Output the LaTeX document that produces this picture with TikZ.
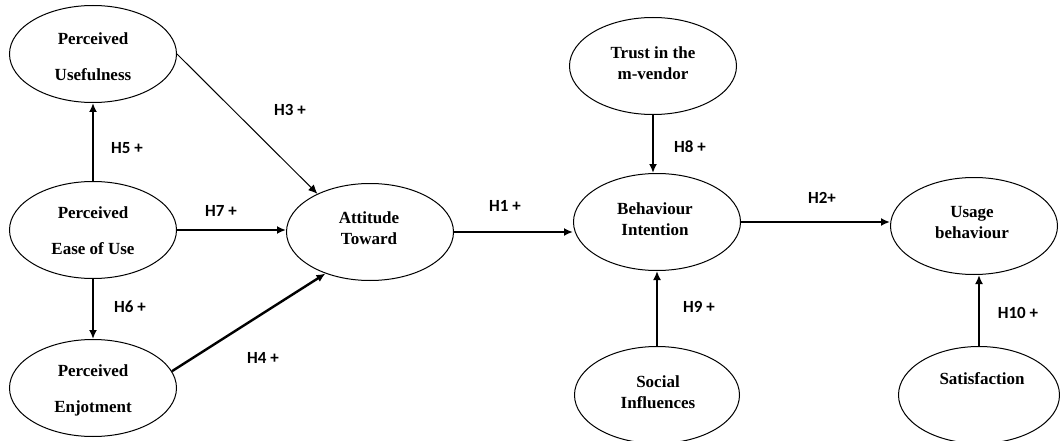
\documentclass[tikz,border=0pt]{standalone}
\usepackage{fontspec}
\setmainfont{Liberation Serif}
\newfontfamily\lblfont{Carlito}
\usetikzlibrary{shapes.geometric,arrows.meta}
\begin{document}
\begin{tikzpicture}[x=1pt,y=-1pt,
  construct/.style={draw,ellipse,line width=1pt,minimum width=167pt,minimum height=97pt,inner sep=0pt},
  ctext/.style={font=\bfseries\fontsize{17}{21}\selectfont,align=center,inner sep=0pt},
  wtext/.style={font=\bfseries\fontsize{17}{36}\selectfont,align=center,inner sep=0pt},
  hyp/.style={font=\lblfont\bfseries\fontsize{17}{20}\selectfont,inner sep=0pt},
  boldlink/.style={line width=2.4pt,-{Latex[length=9pt,width=8pt]}},
  thinlink/.style={line width=1pt,-{Latex[length=9pt,width=8pt]}}]
\useasboundingbox (0,0) rectangle (1060,441);
\clip (0,0) rectangle (1060,441);
\fill[white] (0,0) rectangle (1060,441);
% constructs
\node[construct] (pu) at (93,54) {};
\node[construct] (peou) at (93,230) {};
\node[construct] (pe) at (93,388) {};
\node[construct] (at) at (370,232) {};
\node[construct] (tm) at (653,66) {};
\node[construct] (bi) at (657,222) {};
\node[construct] (ub) at (974,226) {};
\node[construct,minimum width=161pt] (sat) at (979,395) {};
\node[construct,minimum width=165pt] (si) at (657,395) {};
% texts
\node[wtext] (pu-t) at (93,57) {Perceived\\Usefulness};
\node[wtext] (peou-t) at (93,231) {Perceived\\Ease of Use};
\node[wtext] (pe-t) at (93,390) {Perceived\\Enjotment};
\node[ctext] (at-t) at (369,228) {Attitude\\Toward};
\node[ctext] (tm-t) at (653,63) {Trust in the\\m-vendor};
\node[ctext] (bi-t) at (655,219) {Behaviour\\Intention};
\node[ctext] (ub-t) at (972,223) {Usage\\behaviour};
\node[ctext] (sat-t) at (982,379) {Satisfaction};
\node[ctext] (si-t) at (658,392) {Social\\Influences};
% connectors
\draw[boldlink] (peou.north) -- (pu.south);
\draw[boldlink] (peou.south) -- (pe.north);
\draw[thinlink] (pu.east) -- (at.144);
\draw[boldlink] (peou.east) -- (peou.east -| at.west);
\draw[boldlink] (pe.12) -- (at.223);
\draw[boldlink] (at.east) -- (at.east -| bi.west);
\draw[boldlink] (tm.south) -- (tm.south |- bi.north);
\draw[boldlink] (si.north) -- (bi.south);
\draw[boldlink] (bi.east) -- (bi.east -| ub.west);
\draw[boldlink] (sat.north) -- (sat.north |- ub.south);
% hypothesis labels
\node[hyp] (h1) at (505,206) {H1 +};
\node[hyp] (h2) at (822,198) {H2+};
\node[hyp] (h3) at (290,110) {H3 +};
\node[hyp] (h4) at (263,358) {H4 +};
\node[hyp] (h5) at (127,148) {H5 +};
\node[hyp] (h6) at (130,307) {H6 +};
\node[hyp] (h7) at (221,211) {H7 +};
\node[hyp] (h8) at (690,147) {H8 +};
\node[hyp] (h9) at (699,307) {H9 +};
\node[hyp] (h10) at (1018,313) {H10 +};
\end{tikzpicture}
\end{document}
